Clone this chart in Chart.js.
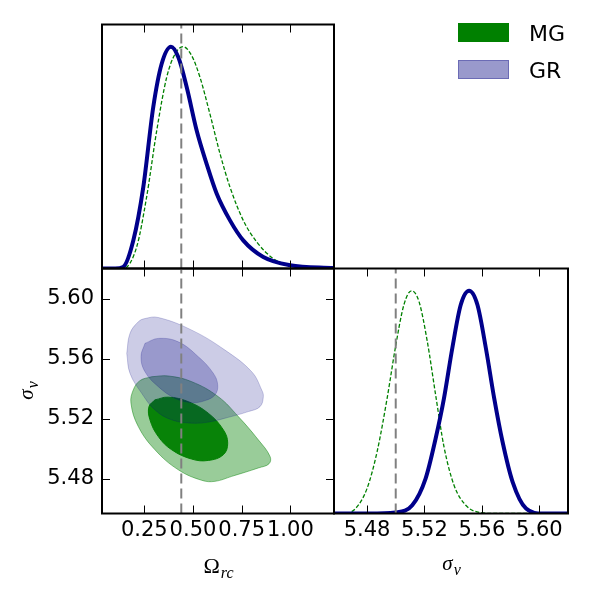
<!DOCTYPE html>
<html>
<head>
<meta charset="utf-8">
<script src="https://cdn.jsdelivr.net/npm/chart.js@4.4.0/dist/chart.umd.min.js"></script>
<style>
  body { margin: 0; background: #fff; }
  #wrap { position: relative; width: 593px; height: 594px; }
  canvas { position: absolute; left: 0; top: 0; }
</style>
</head>
<body>
<div id="wrap">
  <canvas id="omegaChart" width="593" height="594"></canvas>
  <canvas id="contourChart" width="593" height="594"></canvas>
  <canvas id="sigmaChart" width="593" height="594"></canvas>
</div>
<script>
const seriesNames = ["MG", "GR"];
const omegaTicks = [0.25, 0.5, 0.75, 1.0];
const sigmaTicks = [5.48, 5.52, 5.56, 5.60];
const omegaRange = [0.033, 1.224];
const sigmaRange = [5.457, 5.62];
const omegaFiducial = 0.44;
const sigmaFiducial = 5.50;

// 1D marginals (peak normalised to 1)
const omegaGridGR = [0.033, 0.1, 0.142, 0.194, 0.245, 0.296, 0.339, 0.387, 0.425, 0.468, 0.519, 0.570, 0.622, 0.690, 0.758, 0.861, 0.998, 1.224];
const omegaDensGR = [0, 0, 0.007, 0.127, 0.367, 0.727, 0.922, 1, 0.952, 0.817, 0.622, 0.472, 0.337, 0.217, 0.127, 0.052, 0.015, 0.002];
const omegaGridMG = [0.033, 0.142, 0.211, 0.262, 0.314, 0.365, 0.408, 0.450, 0.493, 0.536, 0.587, 0.639, 0.690, 0.758, 0.827, 0.912, 0.998, 1.224];
const omegaDensMG = [0, 0, 0.097, 0.322, 0.622, 0.862, 0.967, 1, 0.96, 0.862, 0.697, 0.517, 0.367, 0.217, 0.12, 0.045, 0.015, 0.002];

const sigmaGridGR = [5.457, 5.4812, 5.4999, 5.5115, 5.5208, 5.5278, 5.5336, 5.5394, 5.5453, 5.5511, 5.5569, 5.5628, 5.5686, 5.5744, 5.5814, 5.5908, 5.6024, 5.62];
const sigmaDensGR = [0, 0, 0.005, 0.037, 0.157, 0.337, 0.517, 0.742, 0.937, 1, 0.937, 0.742, 0.517, 0.322, 0.142, 0.022, 0, 0];
const sigmaGridMG = [5.457, 5.4637, 5.4719, 5.48, 5.487, 5.494, 5.4999, 5.5057, 5.511, 5.5162, 5.522, 5.5278, 5.5336, 5.5406, 5.5488, 5.5581, 5.5698, 5.62];
const sigmaDensMG = [0, 0, 0.022, 0.112, 0.277, 0.517, 0.75, 0.937, 1, 0.952, 0.772, 0.532, 0.3, 0.127, 0.037, 0.005, 0, 0];

// 2D credible regions, [omega_rc, sigma_v]
const grOuter = [[0.160, 5.5635], [0.1766, 5.5768], [0.2192, 5.5845], [0.2536, 5.5867], [0.3219, 5.5874], [0.4935, 5.5790], [0.6645, 5.5657], [0.8016, 5.5513], [0.853, 5.5392], [0.8612, 5.5347], [0.8442, 5.5281], [0.7841, 5.5248], [0.6645, 5.5204], [0.5787, 5.5178], [0.4935, 5.5171], [0.3907, 5.5193], [0.305, 5.5259], [0.2366, 5.537], [0.1766, 5.5503]];
const grInner = [[0.2536, 5.5702], [0.3219, 5.5735], [0.4246, 5.5712], [0.5274, 5.5613], [0.6044, 5.5503], [0.627, 5.5425], [0.6131, 5.5359], [0.5618, 5.5321], [0.4935, 5.5308], [0.4077, 5.5337], [0.3219, 5.5414], [0.2536, 5.5513], [0.233, 5.5613]];
const mgOuter = [[0.288, 5.548], [0.3733, 5.5485], [0.4935, 5.5447], [0.6301, 5.5347], [0.7328, 5.5215], [0.8355, 5.506], [0.8956, 5.495], [0.8905, 5.4901], [0.8355, 5.4873], [0.6989, 5.4817], [0.6131, 5.4784], [0.5448, 5.4791], [0.4246, 5.4861], [0.305, 5.4994], [0.2192, 5.5149], [0.1817, 5.5304], [0.1935, 5.5392], [0.2279, 5.5454]];
const mgInner = [[0.305, 5.5326], [0.3733, 5.5344], [0.476, 5.5314], [0.5787, 5.5237], [0.6558, 5.5127], [0.6783, 5.5038], [0.6558, 5.4961], [0.5787, 5.4923], [0.4935, 5.4932], [0.3907, 5.4994], [0.3219, 5.5082], [0.2793, 5.5193], [0.2741, 5.5281]];

const NAVY = "#00008b";
const GREEN = "#008000";
const tickFont = { family: "DejaVu Sans", size: 21 };

const zip = (xs, ys) => xs.map((x, i) => ({ x: x, y: ys[i] }));
const closed = (pts) => pts.concat([pts[0]]).map(p => ({ x: p[0], y: p[1] }));

// frame + inward ticks, matplotlib classic style
const framePlugin = {
  id: "frame",
  afterDatasetsDraw(chart, args, opts) {
    const { ctx, chartArea: a, scales } = chart;
    const len = 8;
    ctx.save();
    ctx.strokeStyle = "#000";
    ctx.lineWidth = 1;
    (opts.xTicks || []).forEach(v => {
      const px = Math.round(scales.x.getPixelForValue(v)) + 0.5;
      ctx.beginPath();
      ctx.moveTo(px, a.bottom); ctx.lineTo(px, a.bottom - len);
      ctx.moveTo(px, a.top); ctx.lineTo(px, a.top + len);
      ctx.stroke();
    });
    (opts.yTicks || []).forEach(v => {
      const py = Math.round(scales.y.getPixelForValue(v)) + 0.5;
      ctx.beginPath();
      ctx.moveTo(a.left, py); ctx.lineTo(a.left + len, py);
      ctx.moveTo(a.right, py); ctx.lineTo(a.right - len, py);
      ctx.stroke();
    });
    ctx.lineWidth = 2;
    ctx.strokeRect(a.left, a.top, a.right - a.left, a.bottom - a.top);
    ctx.restore();
  }
};

function drawMath(ctx, x, y, main, sub, mainFont, subFont) {
  ctx.font = mainFont;
  const w1 = ctx.measureText(main).width;
  ctx.font = subFont;
  const w2 = ctx.measureText(sub).width;
  const x0 = x - (w1 + w2) / 2;
  ctx.textBaseline = "alphabetic";
  ctx.textAlign = "left";
  ctx.fillStyle = "#000";
  ctx.font = mainFont;
  ctx.fillText(main, x0, y);
  ctx.font = subFont;
  ctx.fillText(sub, x0 + w1 + 1, y + 5);
}

const titlePlugin = {
  id: "axisTitles",
  afterDraw(chart, args, opts) {
    const { ctx, chartArea: a } = chart;
    ctx.save();
    if (opts.which === "omega") {
      drawMath(ctx, (a.left + a.right) / 2, 573, "\u03a9", "rc", "22px 'Liberation Serif'", "italic 16px 'Liberation Serif'");
      ctx.translate(33, (a.top + a.bottom) / 2);
      ctx.rotate(-Math.PI / 2);
      drawMath(ctx, 0, 0, "\u03c3", "v", "italic 21px 'Liberation Serif'", "italic 16px 'Liberation Serif'");
    } else if (opts.which === "sigma") {
      drawMath(ctx, (a.left + a.right) / 2, 570, "\u03c3", "v", "italic 21px 'Liberation Serif'", "italic 16px 'Liberation Serif'");
    }
    ctx.restore();
  }
};

const legendPlugin = {
  id: "cornerLegend",
  afterDraw(chart) {
    const ctx = chart.ctx;
    const fills = [GREEN, "rgba(0,0,128,0.4)"];
    const edges = [GREEN, "rgba(0,0,128,0.3)"];
    const tops = [23, 60];
    ctx.save();
    seriesNames.forEach((name, i) => {
      ctx.fillStyle = fills[i];
      ctx.fillRect(458, tops[i], 51, 19);
      ctx.strokeStyle = edges[i];
      ctx.lineWidth = 1;
      ctx.strokeRect(458.5, tops[i] + 0.5, 50, 18);
      ctx.fillStyle = "#000";
      ctx.font = "22px 'DejaVu Sans'";
      ctx.textBaseline = "alphabetic";
      ctx.fillText(name, 529, tops[i] + 18);
    });
    ctx.restore();
  }
};

const hiddenScale = (range) => ({ type: "linear", display: false, min: range[0], max: range[1] });
const labelScale = (range, ticks, pad, extra) => Object.assign({
  type: "linear", min: range[0], max: range[1],
  afterBuildTicks: s => { s.ticks = ticks.map(v => ({ value: v })); },
  ticks: { callback: v => v.toFixed(2), font: tickFont, color: "#000", padding: pad, autoSkip: false, maxRotation: 0, minRotation: 0 },
  grid: { display: false, drawTicks: false },
  border: { display: false }
}, extra);

const base = {
  responsive: false,
  animation: false,
  events: [],
  elements: { point: { radius: 0 } },
};

const vline = (v, lo, hi) => ({
  data: [{ x: v, y: lo }, { x: v, y: hi }],
  showLine: true, borderColor: "#808080", borderWidth: 2, borderDash: [10, 5], order: 0
});

// top left: Omega_rc marginal
new Chart(document.getElementById("omegaChart"), {
  type: "scatter",
  data: {
    datasets: [
      vline(omegaFiducial, 0, 1.1),
      { label: "GR", data: zip(omegaGridGR, omegaDensGR), showLine: true, borderColor: NAVY, borderWidth: 4, cubicInterpolationMode: "monotone", order: 1 },
      { label: "MG", data: zip(omegaGridMG, omegaDensMG), showLine: true, borderColor: GREEN, borderWidth: 1.3, borderDash: [4, 2], cubicInterpolationMode: "monotone", order: 2 },
    ],
  },
  options: Object.assign({}, base, {
    layout: { padding: { left: 102, top: 24.5, right: 259, bottom: 325.5 } },
    scales: { x: hiddenScale(omegaRange), y: hiddenScale([0, 1.1]) },
    plugins: { legend: { display: false }, tooltip: { enabled: false }, frame: { xTicks: omegaTicks } },
  }),
  plugins: [framePlugin, legendPlugin],
});

// bottom left: 2D contours
new Chart(document.getElementById("contourChart"), {
  type: "scatter",
  data: {
    datasets: [
      vline(omegaFiducial, sigmaRange[0], sigmaRange[1]),
      { label: "GR 68%", data: closed(grInner), showLine: true, fill: "shape", backgroundColor: "rgba(0,0,128,0.25)", borderColor: "rgba(0,0,128,0.2)", borderWidth: 1, tension: 0.4, order: 1 },
      { label: "GR 95%", data: closed(grOuter), showLine: true, fill: "shape", backgroundColor: "rgba(0,0,128,0.2)", borderColor: "rgba(0,0,128,0.2)", borderWidth: 1, tension: 0.4, order: 2 },
      { label: "MG 68%", data: closed(mgInner), showLine: true, fill: "shape", backgroundColor: "rgba(0,128,0,0.95)", borderColor: "rgba(0,128,0,0.95)", borderWidth: 1, tension: 0.4, order: 3 },
      { label: "MG 95%", data: closed(mgOuter), showLine: true, fill: "shape", backgroundColor: "rgba(0,128,0,0.4)", borderColor: "rgba(0,128,0,0.45)", borderWidth: 1, tension: 0.4, order: 4 },
    ],
  },
  options: Object.assign({}, base, {
    layout: { padding: { left: 0, top: 268.5, right: 259, bottom: 0 } },
    scales: {
      x: labelScale(omegaRange, omegaTicks, 4, { afterFit: s => { s.height = 80.5; } }),
      y: labelScale(sigmaRange, sigmaTicks, 8, { afterFit: s => { s.width = 102; } }),
    },
    plugins: { legend: { display: false }, tooltip: { enabled: false }, frame: { xTicks: omegaTicks, yTicks: sigmaTicks }, axisTitles: { which: "omega" } },
  }),
  plugins: [framePlugin, titlePlugin],
});

// bottom right: sigma_v marginal
new Chart(document.getElementById("sigmaChart"), {
  type: "scatter",
  data: {
    datasets: [
      vline(sigmaFiducial, 0, 1.1),
      { label: "GR", data: zip(sigmaGridGR, sigmaDensGR), showLine: true, borderColor: NAVY, borderWidth: 4, cubicInterpolationMode: "monotone", order: 1 },
      { label: "MG", data: zip(sigmaGridMG, sigmaDensMG), showLine: true, borderColor: GREEN, borderWidth: 1.3, borderDash: [4, 2], cubicInterpolationMode: "monotone", order: 2 },
    ],
  },
  options: Object.assign({}, base, {
    layout: { padding: { left: 334, top: 268.5, right: 25, bottom: 0 } },
    scales: {
      x: labelScale(sigmaRange, sigmaTicks, 4, { afterFit: s => { s.height = 80.5; } }),
      y: hiddenScale([0, 1.1]),
    },
    plugins: { legend: { display: false }, tooltip: { enabled: false }, frame: { xTicks: sigmaTicks }, axisTitles: { which: "sigma" } },
  }),
  plugins: [framePlugin, titlePlugin],
});
</script>
</body>
</html>
